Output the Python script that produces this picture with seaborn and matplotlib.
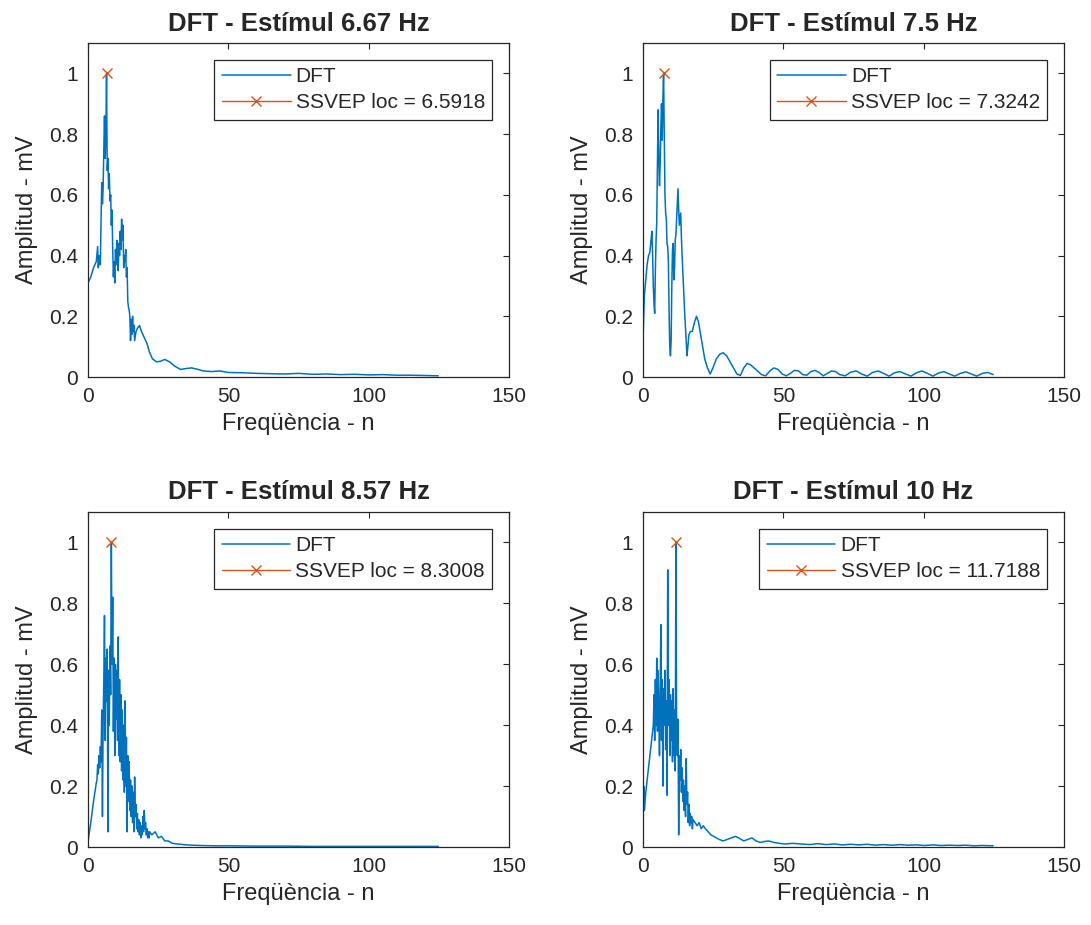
import seaborn as sns
import matplotlib
matplotlib.use('Agg')
import matplotlib.pyplot as plt

# Dades llegides de la figura (freqüència en Hz, amplitud normalitzada)
titles = ['DFT - Estímul 6.67 Hz', 'DFT - Estímul 7.5 Hz',
          'DFT - Estímul 8.57 Hz', 'DFT - Estímul 10 Hz']
ssvep_loc = [6.5918, 7.3242, 8.3008, 11.7188]
ssvep_amp = [1.0, 1.0, 1.0, 1.0]
xticks = [0, 50, 100, 150]
yticks = [0, 0.2, 0.4, 0.6, 0.8, 1.0]
ytick_labels = ['0', '0.2', '0.4', '0.6', '0.8', '1']

# 6.67 Hz
f1 = [0, 0.98, 1.95, 2.93,
      3.42, 3.66, 3.91, 4.15, 4.39, 4.64, 4.88, 5.13, 5.37, 5.62,
      5.86, 6.10, 6.35, 6.59, 6.84, 7.08, 7.32, 7.57, 7.81, 8.06,
      8.30, 8.54, 8.79, 9.03, 9.28, 9.52, 9.77, 10.01, 10.25, 10.50,
      10.74, 10.99, 11.23, 11.47, 11.72, 11.96, 12.21, 12.45, 12.70, 12.94,
      13.18, 13.43, 13.67, 13.92, 14.16, 14.40, 14.65, 14.89, 15.14, 15.38,
      15.63, 15.87, 16.11, 16.36, 16.60,
      17.09, 17.58, 18.31, 19.04, 20.02, 21.00, 21.97, 22.95, 24.41, 25.88,
      27.34, 29.05, 31.01, 32.96, 34.91, 36.87, 38.82, 41.02, 43.95, 46.88,
      50.05, 55.18, 60.06, 64.94, 70.07, 74.95, 80.08, 84.96, 89.84, 94.97,
      100.10, 104.98, 110.11, 114.99, 120.12, 124.76]
a1 = [0.31, 0.33, 0.36, 0.38,
      0.43, 0.36, 0.40, 0.37, 0.37, 0.52, 0.64, 0.57, 0.62, 0.75,
      0.86, 0.72, 0.80, 1.00, 0.68, 0.72, 0.62, 0.67, 0.58, 0.60,
      0.50, 0.55, 0.42, 0.33, 0.38, 0.31, 0.42, 0.37, 0.45, 0.40,
      0.35, 0.44, 0.40, 0.48, 0.42, 0.52, 0.45, 0.50, 0.36, 0.40,
      0.38, 0.42, 0.33, 0.36, 0.25, 0.23, 0.22, 0.20, 0.12, 0.19,
      0.14, 0.20, 0.15, 0.17, 0.12,
      0.15, 0.16, 0.17, 0.15, 0.13, 0.11, 0.08, 0.06, 0.05, 0.052,
      0.058, 0.05, 0.035, 0.025, 0.028, 0.03, 0.026, 0.02, 0.018, 0.02,
      0.015, 0.014, 0.012, 0.011, 0.010, 0.012, 0.009, 0.010, 0.008, 0.009,
      0.007, 0.008, 0.006, 0.006, 0.005, 0.004]

# 7.5 Hz
f2 = [0, 0.24, 0.49, 0.98, 1.46, 1.95, 2.44, 2.93, 3.17, 3.42,
      3.66, 3.91, 4.15, 4.39, 4.64, 4.88, 5.13, 5.37, 5.62, 5.86,
      6.10, 6.35, 6.59, 6.84, 7.08, 7.32, 7.57, 7.81, 8.06, 8.30,
      8.54, 8.79, 9.03, 9.28, 9.52, 9.77, 10.01, 10.25, 10.50, 10.74,
      10.99, 11.23, 11.47, 11.72, 11.96, 12.21, 12.45, 12.70, 12.94, 13.18,
      13.43, 13.67, 13.92, 14.40, 14.89, 15.38, 15.63, 15.87, 16.36, 16.85,
      17.58, 18.31, 19.04, 19.78, 20.51, 21.24, 21.97, 22.95, 23.93, 24.90,
      26.12, 27.34, 28.56, 29.79, 31.01, 32.23, 33.45, 34.67, 35.89, 37.11,
      38.33, 39.55, 40.77, 42.24, 43.70, 45.17, 46.63, 48.10, 49.56, 51.03,
      52.49, 53.96, 55.42, 56.89, 58.35, 59.81, 61.28, 62.74, 64.21, 65.67,
      67.14, 68.60, 70.07, 72.02, 73.97, 75.93, 77.88, 79.83, 81.79, 83.74,
      85.69, 87.65, 89.60, 91.55, 93.51, 95.46, 97.41, 99.37, 101.32, 103.27,
      105.22, 107.18, 109.13, 111.08, 113.04, 114.99, 116.94, 118.90, 120.85, 122.80,
      124.76]
a2 = [0.12, 0.20, 0.27, 0.32, 0.37, 0.40, 0.41, 0.46, 0.48, 0.40,
      0.30, 0.24, 0.21, 0.35, 0.45, 0.51, 0.70, 0.88, 0.72, 0.63,
      0.70, 0.82, 0.90, 0.78, 0.92, 1.00, 0.78, 0.60, 0.54, 0.52,
      0.44, 0.43, 0.38, 0.22, 0.10, 0.07, 0.12, 0.30, 0.42, 0.44,
      0.32, 0.36, 0.45, 0.47, 0.52, 0.58, 0.62, 0.55, 0.50, 0.52,
      0.54, 0.46, 0.40, 0.30, 0.20, 0.12, 0.07, 0.09, 0.14, 0.15,
      0.15, 0.18, 0.20, 0.18, 0.14, 0.10, 0.06, 0.03, 0.01, 0.03,
      0.06, 0.075, 0.08, 0.07, 0.05, 0.03, 0.01, 0.005, 0.03, 0.045,
      0.04, 0.03, 0.02, 0.008, 0.004, 0.02, 0.03, 0.025, 0.01, 0.004,
      0.012, 0.022, 0.02, 0.008, 0.006, 0.018, 0.022, 0.015, 0.004, 0.012,
      0.02, 0.018, 0.008, 0.004, 0.016, 0.02, 0.01, 0.003, 0.015, 0.02,
      0.012, 0.003, 0.014, 0.018, 0.01, 0.003, 0.014, 0.02, 0.012, 0.003,
      0.013, 0.018, 0.01, 0.003, 0.012, 0.017, 0.01, 0.003, 0.012, 0.015,
      0.008]

# 8.57 Hz
f3 = [0, 0.98, 1.95, 2.93,
      3.17, 3.42, 3.66, 3.91, 4.15, 4.39, 4.64, 4.88, 5.13, 5.37,
      5.62, 5.86, 6.10, 6.35, 6.59, 6.84, 7.08, 7.32, 7.57, 7.81,
      8.06, 8.30, 8.54, 8.79, 9.03, 9.28, 9.52, 9.77, 10.01, 10.25,
      10.50, 10.74, 10.99, 11.23, 11.47, 11.72, 11.96, 12.21, 12.45, 12.70,
      12.94, 13.18, 13.43, 13.67, 13.92, 14.16, 14.40, 14.65, 14.89, 15.14,
      15.38, 15.63, 15.87, 16.11, 16.36, 16.60, 16.85, 17.09, 17.33, 17.58,
      17.82, 18.07, 18.31, 18.55, 18.80, 19.04, 19.29, 19.53, 19.78, 20.02,
      20.26, 20.51, 20.75, 21.00, 21.24, 21.48, 21.73, 21.97,
      22.70, 23.93, 25.02, 26.12, 27.34, 28.56, 30.03, 31.98, 33.94, 36.87,
      40.04, 45.17, 50.05, 60.06, 70.07, 80.08, 90.09, 100.10, 110.11, 120.12,
      124.76]
a3 = [0.02, 0.08, 0.15, 0.21,
      0.22, 0.27, 0.24, 0.30, 0.26, 0.33, 0.28, 0.45, 0.10, 0.40,
      0.55, 0.76, 0.35, 0.62, 0.48, 0.65, 0.05, 0.58, 0.40, 0.66,
      0.50, 1.00, 0.60, 0.82, 0.38, 0.62, 0.30, 0.60, 0.42, 0.58,
      0.35, 0.69, 0.30, 0.55, 0.28, 0.50, 0.25, 0.45, 0.22, 0.40,
      0.18, 0.48, 0.20, 0.36, 0.05, 0.30, 0.15, 0.28, 0.12, 0.22,
      0.10, 0.20, 0.08, 0.18, 0.05, 0.23, 0.10, 0.14, 0.06, 0.11,
      0.05, 0.09, 0.04, 0.08, 0.03, 0.07, 0.04, 0.10, 0.05, 0.12,
      0.06, 0.08, 0.04, 0.06, 0.03, 0.05, 0.03, 0.05,
      0.04, 0.05, 0.03, 0.035, 0.02, 0.02, 0.012, 0.010, 0.008, 0.006,
      0.005, 0.004, 0.004, 0.003, 0.003, 0.002, 0.002, 0.002, 0.002, 0.002,
      0.002]

# 10 Hz
f4 = [0, 0.24, 0.49, 0.98, 1.95, 2.93, 3.66,
      3.91, 4.15, 4.39, 4.64, 4.88, 5.13, 5.37, 5.62, 5.86, 6.10,
      6.35, 6.59, 6.84, 7.08, 7.32, 7.57, 7.81, 8.06, 8.30, 8.54,
      8.79, 9.03, 9.28, 9.52, 9.77, 10.01, 10.25, 10.50, 10.74, 10.99,
      11.23, 11.47, 11.72, 11.96, 12.21, 12.45, 12.70, 12.94, 13.18, 13.43,
      13.67, 13.92, 14.16, 14.40, 14.65, 14.89, 15.14, 15.38, 15.63, 15.87,
      16.11, 16.36, 16.60, 16.85, 17.09, 17.33, 17.58, 17.82,
      18.55, 19.29, 20.02, 20.75, 21.48, 22.22, 23.19, 24.17, 25.15, 26.12,
      27.10, 28.56, 30.03, 31.49, 32.96, 34.42, 35.89, 37.35, 38.82, 40.28,
      41.75, 43.21, 44.68, 46.63, 48.58, 50.54, 53.47, 56.40, 59.33, 62.26,
      65.19, 68.12, 71.04, 73.97, 76.90, 79.83, 82.76, 85.69, 88.62, 91.55,
      94.48, 97.41, 100.34, 103.27, 106.20, 109.13, 112.06, 114.99, 117.92, 120.85,
      124.76]
a4 = [0.08, 0.20, 0.12, 0.18, 0.26, 0.34, 0.40,
      0.50, 0.35, 0.55, 0.40, 0.62, 0.38, 0.58, 0.45, 0.30, 0.50,
      0.73, 0.35, 0.55, 0.20, 0.52, 0.40, 0.58, 0.32, 0.48, 0.17,
      0.91, 0.40, 0.55, 0.30, 0.50, 0.35, 0.48, 0.28, 0.52, 0.30,
      0.45, 0.25, 1.00, 0.38, 0.30, 0.42, 0.04, 0.30, 0.22, 0.32,
      0.18, 0.26, 0.15, 0.22, 0.12, 0.20, 0.10, 0.29, 0.14, 0.18,
      0.08, 0.14, 0.07, 0.11, 0.08, 0.10, 0.06, 0.09,
      0.08, 0.07, 0.08, 0.06, 0.07, 0.06, 0.05, 0.04, 0.035, 0.03,
      0.025, 0.02, 0.025, 0.03, 0.035, 0.028, 0.02, 0.025, 0.03, 0.02,
      0.015, 0.018, 0.02, 0.015, 0.012, 0.010, 0.012, 0.010, 0.008, 0.011,
      0.008, 0.010, 0.007, 0.009, 0.007, 0.009, 0.006, 0.008, 0.006, 0.008,
      0.006, 0.007, 0.005, 0.007, 0.005, 0.006, 0.005, 0.006, 0.004, 0.005,
      0.004]

freqs = [f1, f2, f3, f4]
amps = [a1, a2, a3, a4]

blue = '#0072BD'
orange = '#D95319'
dark = '#262626'

sns.set_style('white')
plt.rcParams['font.family'] = ['Liberation Sans', 'DejaVu Sans']

fig = plt.figure(figsize=(10.91, 9.25), dpi=100)
positions = [(0.0807, 0.5924, 0.3859, 0.3611),
             (0.5894, 0.5924, 0.3859, 0.3611),
             (0.0807, 0.0843, 0.3859, 0.3622),
             (0.5894, 0.0843, 0.3859, 0.3622)]

for i in range(4):
    ax = fig.add_axes(positions[i])
    sns.lineplot(x=freqs[i], y=amps[i], ax=ax, color=blue, linewidth=1.1,
                 estimator=None, sort=False, label='DFT')
    ax.plot([ssvep_loc[i]], [ssvep_amp[i]], '-x', color=orange, markersize=7.5,
            markeredgewidth=1.0, linewidth=1.0,
            label='SSVEP loc = %g' % ssvep_loc[i])
    ax.set_xlim(0, 150)
    ax.set_ylim(0, 1.1)
    ax.set_xticks(xticks)
    ax.set_yticks(yticks)
    ax.set_yticklabels(ytick_labels)
    ax.tick_params(direction='in', top=True, right=True, length=4, width=0.8,
                   labelsize=15, colors=dark, pad=7)
    for s in ax.spines.values():
        s.set_color(dark)
        s.set_linewidth(0.9)
    ax.set_xlabel('Freqüència - n', fontsize=17, color=dark, labelpad=5)
    ax.set_ylabel('Amplitud - mV', fontsize=17, color=dark, labelpad=8)
    ax.set_title(titles[i], fontsize=18.5, fontweight='bold', pad=9)
    leg = ax.legend(loc='upper right', fontsize=15, frameon=True, fancybox=False,
                    framealpha=1, edgecolor=dark, borderaxespad=0.8,
                    handlelength=3.3, handletextpad=0.25, labelspacing=0.35,
                    borderpad=0.35)
    leg.get_frame().set_linewidth(0.9)

fig.savefig('out.png', dpi=100, facecolor='white')
